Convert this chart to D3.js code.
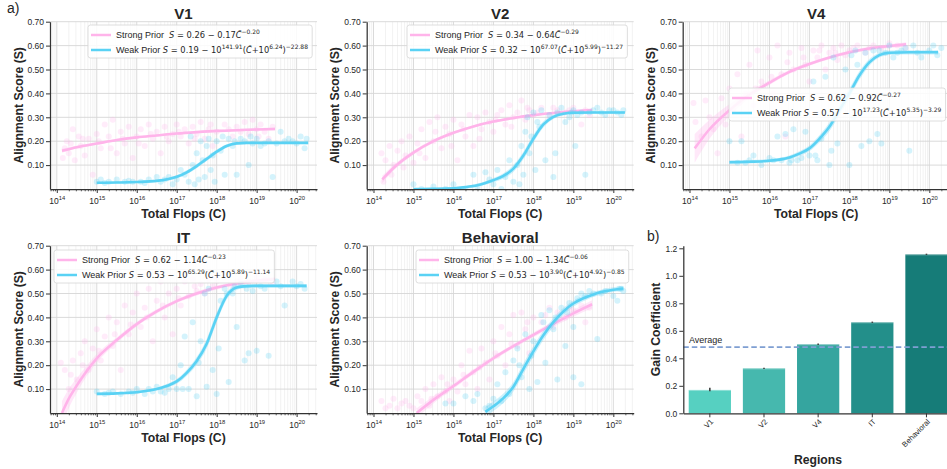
<!DOCTYPE html>
<html><head><meta charset="utf-8">
<script src="https://cdn.jsdelivr.net/npm/d3@7"></script>
<style>
body{margin:0;background:#fff}
svg{display:block}
text{font-family:"Liberation Sans",Arial,sans-serif;fill:#262626}
</style>
</head><body>
<svg id="c" width="947" height="469"></svg>
<script>
// ---------------- DATA ----------------
const regions = ["V1","V2","V4","IT","Behavioral"];
const xTickExps = [14,15,16,17,18,19,20];
const yTicks = [0.1,0.2,0.3,0.4,0.5,0.6,0.7];
const gainTicks = [0,0.2,0.4,0.6,0.8,1.0,1.2];

// legend equation parameters
const strongA = [0.26,0.34,0.62,0.62,1.00];
const strongB = [0.17,0.64,0.92,1.14,1.34];
const strongExp = [0.20,0.29,0.27,0.23,0.06];
const weakA = [0.19,0.32,0.57,0.53,0.53];
const weakE1 = ["141.91","67.07","17.23","65.29","3.90"];
const weakE2 = ["6.24","5.99","5.35","5.89","4.92"];
const weakE3 = ["22.88","11.27","3.29","11.14","0.85"];

// fitted curves: [log10 C, S, CI half-width]
const v1StrongFit = [[14.13,0.160,0.008],[14.5,0.175,0.006],[15,0.19,0.005],[15.5,0.205,0.004],[16,0.216,0.004],[16.5,0.224,0.004],[17,0.232,0.004],[17.5,0.238,0.004],[18,0.243,0.004],[18.5,0.246,0.005],[19,0.249,0.005],[19.46,0.251,0.006]];
const v1WeakFit = [[15.0,0.026,0.004],[15.5,0.027,0.004],[16.0,0.029,0.004],[16.5,0.034,0.005],[16.8,0.042,0.006],[17.0,0.051,0.007],[17.25,0.07,0.008],[17.5,0.096,0.009],[17.75,0.126,0.009],[18.0,0.156,0.008],[18.25,0.18,0.007],[18.5,0.191,0.006],[18.75,0.193,0.005],[19.0,0.193,0.005],[19.5,0.193,0.005],[20.0,0.193,0.005],[20.29,0.193,0.006]];
const v2StrongFit = [[14.22,0.04,0.015],[14.5,0.088,0.012],[15,0.152,0.009],[15.5,0.2,0.007],[16,0.235,0.006],[16.5,0.262,0.005],[17,0.282,0.005],[17.5,0.297,0.005],[18,0.309,0.005],[18.5,0.318,0.005],[19,0.325,0.006],[19.47,0.33,0.007]];
const v2WeakFit = [[15,0.0,0.004],[15.5,0.001,0.004],[16,0.003,0.004],[16.3,0.008,0.005],[16.6,0.016,0.006],[16.8,0.025,0.007],[17,0.037,0.009],[17.25,0.055,0.011],[17.5,0.085,0.014],[17.75,0.14,0.016],[18,0.21,0.016],[18.25,0.27,0.013],[18.5,0.302,0.009],[18.75,0.315,0.007],[19,0.319,0.006],[19.5,0.32,0.005],[20,0.32,0.005],[20.29,0.32,0.006]];
const v4StrongFit = [[14.13,0.17,0.06],[14.5,0.25,0.04],[15,0.33,0.025],[15.5,0.395,0.015],[16,0.445,0.01],[16.5,0.49,0.008],[17,0.523,0.007],[17.5,0.55,0.007],[18,0.572,0.007],[18.5,0.588,0.007],[19,0.598,0.008],[19.42,0.605,0.009]];
const v4WeakFit = [[15,0.112,0.008],[15.5,0.114,0.007],[16,0.118,0.007],[16.5,0.132,0.008],[16.75,0.148,0.01],[17,0.17,0.012],[17.25,0.21,0.015],[17.5,0.26,0.018],[17.75,0.33,0.02],[18,0.40,0.02],[18.25,0.475,0.018],[18.5,0.53,0.014],[18.75,0.56,0.01],[19,0.57,0.009],[19.5,0.572,0.009],[20,0.572,0.009],[20.22,0.572,0.01]];
const itStrongFit = [[14.13,0.0,0.05],[14.3,0.06,0.04],[14.5,0.115,0.03],[15,0.229,0.018],[15.5,0.305,0.012],[16,0.372,0.01],[16.5,0.425,0.009],[17,0.468,0.008],[17.5,0.5,0.008],[18,0.525,0.008],[18.5,0.542,0.008],[19,0.553,0.009],[19.46,0.56,0.01]];
const itWeakFit = [[15,0.08,0.006],[15.5,0.082,0.005],[16,0.087,0.005],[16.5,0.1,0.006],[16.75,0.113,0.008],[17,0.132,0.01],[17.25,0.168,0.013],[17.5,0.218,0.016],[17.75,0.29,0.02],[18,0.4,0.02],[18.25,0.49,0.015],[18.5,0.525,0.01],[18.75,0.531,0.008],[19,0.532,0.007],[19.5,0.532,0.007],[20,0.532,0.007],[20.25,0.532,0.008]];
const behStrongFit = [[15.08,0.0,0.02],[15.5,0.055,0.015],[16,0.113,0.012],[16.5,0.172,0.01],[17,0.229,0.009],[17.5,0.28,0.009],[18,0.327,0.01],[18.5,0.373,0.012],[19,0.417,0.014],[19.47,0.455,0.017]];
const behWeakFit = [[16.8,0.005,0.02],[17,0.028,0.02],[17.25,0.062,0.02],[17.5,0.11,0.02],[17.75,0.185,0.022],[18,0.258,0.022],[18.25,0.325,0.02],[18.5,0.38,0.018],[18.75,0.425,0.015],[19,0.458,0.013],[19.25,0.48,0.012],[19.5,0.496,0.011],[19.75,0.508,0.01],[20,0.516,0.01],[20.25,0.521,0.01]];

// scatter points: [log10 C, S]
const v1StrongPts = [[14.15,0.13],[14.2,0.17],[14.25,0.2],[14.3,0.15],[14.4,0.25],[14.45,0.12],[14.55,0.22],[14.6,0.18],[14.7,0.14],[14.8,0.21],[14.9,0.06],[15.0,0.23],[15.1,0.17],[15.2,0.27],[15.3,0.22],[15.4,0.29],[15.5,0.15],[15.6,0.24],[15.7,0.19],[15.8,0.26],[15.9,0.13],[16.0,0.22],[16.1,0.25],[16.2,0.18],[16.3,0.27],[16.4,0.21],[16.5,0.24],[16.6,0.15],[16.7,0.26],[16.8,0.2],[16.9,0.23],[17.0,0.27],[17.1,0.22],[17.2,0.25],[17.3,0.19],[17.4,0.26],[17.5,0.23],[17.6,0.28],[17.7,0.21],[17.8,0.25],[17.9,0.18],[18.0,0.24],[18.2,0.27],[18.4,0.22],[18.5,0.26],[18.7,0.28],[18.8,0.23],[18.9,0.29],[19.0,0.25],[19.1,0.27],[19.2,0.24],[19.3,0.21],[19.4,0.26],
  [14.35,0.19],[14.65,0.21],[15.05,0.2],[15.35,0.17],[15.65,0.21],[16.05,0.19],[16.35,0.23],[16.75,0.22],[17.05,0.24],[17.45,0.21],[17.85,0.27],[18.3,0.25],[18.6,0.24],[19.05,0.22]];
const v1WeakPts = [[15.0,0.03],[15.1,0.04],[15.3,0.03],[15.5,0.04],[15.7,0.03],[15.9,0.03],[16.1,0.03],[16.3,0.04],[16.5,0.05],[16.6,0.03],[16.8,0.05],[16.9,0.02],[17.0,0.04],[17.1,0.08],[17.2,0.06],[17.3,0.03],[17.35,0.22],[17.4,0.1],[17.5,0.15],[17.55,0.04],[17.6,0.2],[17.65,0.12],[17.7,0.05],[17.75,0.18],[17.8,0.21],[17.85,0.08],[17.9,0.14],[18.0,0.2],[18.1,0.16],[18.2,0.06],[18.3,0.21],[18.4,0.18],[18.5,0.06],[18.6,0.21],[18.7,0.2],[18.8,0.1],[18.9,0.19],[19.0,0.21],[19.1,0.18],[19.3,0.2],[19.4,0.05],[19.5,0.19],[19.6,0.24],[19.7,0.2],[19.9,0.2],[20.1,0.22],[20.2,0.17],[20.25,0.21],
  [15.2,0.025],[15.8,0.035],[16.2,0.025],[16.7,0.04],[17.45,0.02],[17.95,0.03],[18.15,0.22],[18.45,0.2],[18.85,0.22],[19.2,0.19],[19.8,0.21],[20.0,0.19]];
const v2StrongPts = [[14.2,0.15],[14.25,0.03],[14.3,0.12],[14.4,0.18],[14.5,0.1],[14.6,0.16],[14.7,0.2],[14.8,0.14],[14.9,0.22],[15.0,0.11],[15.1,0.19],[15.2,0.25],[15.3,0.13],[15.4,0.28],[15.5,0.2],[15.6,0.3],[15.7,0.17],[15.8,0.26],[15.9,0.23],[16.0,0.29],[16.1,0.12],[16.2,0.27],[16.3,0.22],[16.4,0.31],[16.5,0.18],[16.6,0.3],[16.7,0.25],[16.8,0.32],[16.9,0.28],[17.0,0.24],[17.1,0.31],[17.2,0.33],[17.3,0.27],[17.4,0.35],[17.5,0.3],[17.6,0.32],[17.7,0.37],[17.8,0.29],[17.9,0.33],[18.0,0.31],[18.2,0.34],[18.4,0.3],[18.6,0.33],[18.8,0.32],[19.0,0.34],[19.2,0.27],[19.3,0.33],[19.4,0.31],
  [14.45,0.06],[14.75,0.09],[15.15,0.15],[15.55,0.24],[15.95,0.18],[16.25,0.25],[16.65,0.21],[17.05,0.29],[17.45,0.26],[17.85,0.34],[18.1,0.32],[18.5,0.34],[18.9,0.33]];
const v2WeakPts = [[15.0,0.02],[15.2,0.0],[15.5,0.01],[15.8,0.0],[16.0,0.02],[16.3,0.0],[16.5,0.06],[16.6,0.01],[16.8,0.07],[16.9,0.04],[17.0,0.02],[17.1,0.08],[17.2,0.0],[17.3,0.05],[17.4,0.12],[17.5,0.03],[17.6,0.1],[17.7,0.18],[17.75,0.06],[17.8,0.24],[17.85,0.3],[17.9,0.15],[18.0,0.32],[18.05,0.08],[18.1,0.28],[18.2,0.33],[18.3,0.12],[18.4,0.31],[18.5,0.05],[18.55,0.15],[18.6,0.32],[18.8,0.28],[18.9,0.3],[19.0,0.33],[19.05,0.18],[19.2,0.32],[19.3,0.06],[19.5,0.33],[19.7,0.32],[19.9,0.33],[20.1,0.32],[20.2,0.31],
  [18.7,0.34],[18.95,0.32],[19.1,0.31],[19.4,0.32],[19.6,0.34],[19.8,0.31],[20.0,0.33],[20.25,0.33],[17.95,0.22],[18.15,0.26],[17.65,0.02]];
const v4StrongPts = [[14.1,0.36],[14.15,0.28],[14.3,0.22],[14.4,0.37],[14.5,0.3],[14.6,0.25],[14.7,0.15],[14.8,0.38],[14.9,0.27],[15.0,0.42],[15.1,0.33],[15.2,0.48],[15.3,0.22],[15.4,0.4],[15.5,0.52],[15.6,0.35],[15.7,0.58],[15.8,0.45],[15.9,0.3],[16.0,0.55],[16.1,0.4],[16.2,0.6],[16.3,0.48],[16.4,0.22],[16.5,0.57],[16.6,0.5],[16.7,0.38],[16.8,0.59],[16.9,0.52],[17.0,0.45],[17.1,0.58],[17.2,0.55],[17.3,0.6],[17.4,0.5],[17.5,0.57],[17.6,0.59],[17.7,0.54],[17.8,0.6],[17.9,0.56],[18.0,0.58],[18.2,0.6],[18.4,0.57],[18.6,0.6],[18.8,0.59],[19.0,0.61],[19.2,0.6],[19.4,0.59],
  [15.25,0.36],[15.65,0.42],[16.05,0.47],[16.45,0.53],[16.85,0.55],[17.25,0.58],[17.65,0.57],[18.1,0.59],[18.5,0.59]];
const v4WeakPts = [[15.0,0.2],[15.2,0.11],[15.3,0.2],[15.5,0.12],[15.6,0.14],[15.8,0.1],[16.0,0.13],[16.2,0.22],[16.3,0.12],[16.4,0.23],[16.5,0.11],[16.6,0.25],[16.7,0.12],[16.8,0.13],[16.9,0.24],[17.0,0.14],[17.1,0.45],[17.2,0.12],[17.3,0.21],[17.4,0.47],[17.5,0.1],[17.6,0.55],[17.7,0.19],[17.8,0.38],[17.9,0.5],[18.0,0.1],[18.05,0.56],[18.1,0.3],[18.2,0.52],[18.3,0.18],[18.4,0.57],[18.5,0.2],[18.6,0.58],[18.7,0.23],[18.8,0.19],[18.9,0.57],[19.0,0.6],[19.1,0.55],[19.3,0.58],[19.5,0.16],[19.6,0.6],[19.8,0.55],[20.0,0.58],[20.2,0.56],[20.3,0.59],
  [15.4,0.11],[16.1,0.12],[16.55,0.12],[17.15,0.14],[17.55,0.16],[18.15,0.58],[18.75,0.58],[19.2,0.57],[19.4,0.59],[19.7,0.57],[20.1,0.6]];
const itStrongPts = [[14.1,0.21],[14.2,0.18],[14.3,0.1],[14.4,0.22],[14.5,0.14],[14.6,0.25],[14.7,0.3],[14.8,0.18],[14.9,0.27],[15.0,0.35],[15.1,0.22],[15.2,0.32],[15.3,0.4],[15.4,0.28],[15.5,0.38],[15.6,0.18],[15.7,0.45],[15.8,0.33],[15.9,0.42],[16.0,0.5],[16.1,0.36],[16.2,0.44],[16.3,0.52],[16.4,0.3],[16.5,0.47],[16.6,0.55],[16.7,0.4],[16.8,0.5],[16.9,0.33],[17.0,0.52],[17.1,0.45],[17.2,0.55],[17.3,0.49],[17.4,0.56],[17.5,0.51],[17.6,0.54],[17.7,0.5],[17.8,0.56],[17.9,0.53],[18.0,0.55],[18.2,0.57],[18.4,0.53],[18.6,0.56],[18.8,0.55],[19.0,0.57],[19.2,0.56],[19.4,0.54],
  [14.35,0.16],[14.65,0.2],[15.05,0.26],[15.45,0.33],[15.85,0.37],[16.25,0.4],[16.65,0.45],[17.05,0.48],[17.45,0.53],[17.95,0.57],[18.5,0.55]];
const itWeakPts = [[15.0,0.09],[15.2,0.08],[15.4,0.09],[15.6,0.08],[15.8,0.09],[16.0,0.1],[16.2,0.08],[16.4,0.09],[16.5,0.11],[16.6,0.09],[16.8,0.1],[16.9,0.15],[17.0,0.1],[17.1,0.2],[17.2,0.32],[17.3,0.1],[17.4,0.38],[17.5,0.07],[17.6,0.3],[17.7,0.5],[17.75,0.11],[17.8,0.52],[17.9,0.18],[18.0,0.08],[18.05,0.27],[18.1,0.47],[18.2,0.52],[18.3,0.13],[18.4,0.5],[18.5,0.36],[18.6,0.54],[18.7,0.22],[18.8,0.25],[18.9,0.51],[19.0,0.26],[19.1,0.53],[19.3,0.24],[19.5,0.55],[19.7,0.45],[19.9,0.55],[20.1,0.54],[20.2,0.52],
  [15.3,0.085],[15.9,0.085],[16.3,0.1],[16.7,0.085],[17.15,0.1],[17.55,0.21],[18.25,0.5],[18.45,0.53],[18.75,0.52],[19.2,0.52],[19.6,0.53],[20.0,0.53]];
const behStrongPts = [[14.2,0.05],[14.3,0.02],[14.4,0.03],[14.5,0.06],[14.6,0.02],[14.8,0.05],[14.9,0.03],[15.0,0.02],[15.1,0.07],[15.2,0.05],[15.3,0.1],[15.4,0.03],[15.5,0.12],[15.6,0.07],[15.7,0.15],[15.8,0.09],[15.9,0.05],[16.0,0.14],[16.1,0.09],[16.2,0.2],[16.3,0.12],[16.4,0.26],[16.5,0.17],[16.6,0.1],[16.7,0.27],[16.8,0.21],[16.9,0.14],[17.0,0.3],[17.1,0.24],[17.2,0.36],[17.3,0.2],[17.4,0.33],[17.5,0.41],[17.6,0.28],[17.7,0.42],[17.8,0.35],[17.9,0.25],[18.0,0.4],[18.2,0.38],[18.4,0.44],[18.5,0.36],[18.6,0.42],[18.8,0.4],[19.0,0.43],[19.2,0.45],[19.3,0.38],[19.4,0.44],
  [14.7,0.04],[15.45,0.06],[15.85,0.12],[16.25,0.16],[16.65,0.19],[17.05,0.25],[17.45,0.29],[17.85,0.38],[18.3,0.41],[18.9,0.44]];
const behWeakPts = [[15.8,0.04],[16.0,0.04],[16.3,0.07],[16.5,0.05],[16.6,0.08],[16.8,0.02],[17.0,0.06],[17.1,0.12],[17.3,0.17],[17.4,0.08],[17.5,0.22],[17.6,0.27],[17.7,0.15],[17.8,0.33],[17.9,0.1],[18.0,0.3],[18.1,0.13],[18.2,0.41],[18.3,0.21],[18.4,0.43],[18.5,0.35],[18.6,0.14],[18.7,0.44],[18.8,0.28],[18.9,0.46],[19.0,0.15],[19.0,0.36],[19.1,0.48],[19.2,0.12],[19.2,0.5],[19.3,0.49],[19.5,0.5],[19.6,0.31],[19.8,0.51],[20.0,0.49],[20.1,0.47],[20.2,0.52],[20.25,0.51],
  [16.9,0.03],[17.2,0.05],[17.65,0.2],[17.95,0.24],[18.25,0.38],[18.55,0.4],[18.85,0.42],[19.4,0.51],[19.7,0.5],[20.15,0.52]];

// bar chart (b)
const gainValues = [0.17,0.327,0.502,0.662,1.156];
const gainErrLow = [0.16,0.322,0.497,0.657,1.151];
const gainErrHigh = [0.186,0.332,0.507,0.667,1.161];
const gainAverage = 0.482;

// ---------------- STYLE / LAYOUT ----------------
const pink = "#ffb4ea", blue = "#5ad2f4";
const barColors = ["#56d0c1","#46b8ae","#35a59f","#238f8a","#167c78"];
const panelW = 267, panelH = 167.3;
const layout = [
  {x:50,    y:21.7,  lg:[88,25]},
  {x:366.7, y:21.7,  lg:[407,25]},
  {x:682.7, y:21.7,  lg:[729,88]},
  {x:50,    y:245.7, lg:[54,250]},
  {x:366.7, y:245.7, lg:[416,250]}
];
const fits = [
  {s:v1StrongFit,w:v1WeakFit,sp:v1StrongPts,wp:v1WeakPts,brv:true},
  {s:v2StrongFit,w:v2WeakFit,sp:v2StrongPts,wp:v2WeakPts},
  {s:v4StrongFit,w:v4WeakFit,sp:v4StrongPts,wp:v4WeakPts},
  {s:itStrongFit,w:itWeakFit,sp:itStrongPts,wp:itWeakPts},
  {s:behStrongFit,w:behWeakFit,sp:behStrongPts,wp:behWeakPts}
];

const svg = d3.select("#c");
const f2 = d3.format(".2f");
const defs = svg.append("defs");

function styleAxis(g){
  g.attr("font-family",null).attr("font-size",null);
  g.select(".domain").attr("stroke","#333").attr("stroke-width",1.25);
  g.selectAll(".tick line").attr("stroke","#333").attr("stroke-width",1);
  g.selectAll(".tick text").attr("fill","#262626").attr("font-size",8.5);
}

function drawLegend(g, x0, y0, rows){
  const lg = g.append("g").attr("transform",`translate(${x0},${y0})`);
  const rect = lg.append("rect");
  const inner = lg.append("g");
  rows.forEach((r,i)=>{
    const cy = 10 + i*15;
    inner.append("line").attr("x1",3).attr("x2",23).attr("y1",cy).attr("y2",cy)
      .attr("stroke",r.color).attr("stroke-width",2.5);
    const t = inner.append("text").attr("x",28).attr("y",cy+3.2)
      .attr("font-size",9).style("white-space","pre");
    let shift = 0;
    r.parts.forEach(p=>{
      const ts = t.append("tspan").text(p.t);
      if(p.m) ts.attr("font-family","DejaVu Sans").attr("font-size",8.3);
      if(p.it) ts.attr("font-style","italic");
      const target = p.sup ? -3.8 : 0;
      if(target !== shift){ ts.attr("dy", target - shift); shift = target; }
      if(p.sup) ts.attr("font-size",6);
    });
  });
  const bb = inner.node().getBBox();
  rect.attr("x",0).attr("y",0).attr("rx",2.5)
    .attr("width", bb.x + bb.width + 4).attr("height", 33)
    .attr("fill","white").attr("fill-opacity",0.85)
    .attr("stroke","#d6d6d6").attr("stroke-width",0.8);
}

function drawPanel(i){
  const L = layout[i], F = fits[i];
  const x = d3.scaleLog().domain([10**13.83, 10**20.51]).range([L.x, L.x+panelW]);
  const y = d3.scaleLinear().domain([0,0.7]).range([L.y+panelH, L.y]);
  const X = e => x(10**e);
  const g = svg.append("g");
  const cid = "clip"+i;
  defs.append("clipPath").attr("id",cid).append("rect")
    .attr("x",L.x).attr("y",L.y).attr("width",panelW).attr("height",panelH);

  const majors = [], minors = [];
  for(let e=13;e<=20;e++) for(let k=1;k<10;k++){
    const v = k*10**e;
    if(v >= x.domain()[0] && v <= x.domain()[1]) (k===1?majors:minors).push(v);
  }
  // grid
  g.append("g").selectAll("line").data(minors).join("line")
    .attr("x1",d=>x(d)).attr("x2",d=>x(d)).attr("y1",L.y).attr("y2",L.y+panelH)
    .attr("stroke","#e9e9e9").attr("stroke-width",0.6);
  g.append("g").selectAll("line").data(majors).join("line")
    .attr("x1",d=>x(d)).attr("x2",d=>x(d)).attr("y1",L.y).attr("y2",L.y+panelH)
    .attr("stroke","#d6d6d6").attr("stroke-width",0.9);
  g.append("g").selectAll("line").data(yTicks).join("line")
    .attr("x1",L.x).attr("x2",L.x+panelW).attr("y1",d=>y(d)).attr("y2",d=>y(d))
    .attr("stroke","#d6d6d6").attr("stroke-width",0.9);

  const plot = g.append("g").attr("clip-path",`url(#${cid})`);
  const area = d3.area().x(d=>X(d[0])).y0(d=>y(d[1]-d[2])).y1(d=>y(d[1]+d[2])).curve(d3.curveMonotoneX);
  const line = d3.line().x(d=>X(d[0])).y(d=>y(d[1])).curve(d3.curveMonotoneX);
  [[F.sp,F.s,pink],[F.wp,F.w,blue]].forEach(([pts,fit,col])=>{
    plot.append("g").selectAll("circle").data(pts).join("circle")
      .attr("cx",d=>X(d[0])).attr("cy",d=>y(d[1])).attr("r",3)
      .attr("fill",col).attr("fill-opacity",0.26);
    plot.append("path").datum(fit).attr("d",area).attr("fill",col).attr("fill-opacity",0.3);
    plot.append("path").datum(fit).attr("d",line).attr("fill","none")
      .attr("stroke",col).attr("stroke-width",2.6);
  });

  // axes
  const gxm = g.append("g").attr("transform",`translate(0,${L.y+panelH})`)
    .call(d3.axisBottom(x).tickValues(minors).tickSize(2.3).tickSizeOuter(0).tickFormat(()=>""));
  styleAxis(gxm); gxm.select(".domain").remove();
  gxm.selectAll(".tick line").attr("stroke-width",0.8);
  const gx = g.append("g").attr("transform",`translate(0,${L.y+panelH})`)
    .call(d3.axisBottom(x).tickValues(xTickExps.map(e=>10**e)).tickSize(4).tickSizeOuter(0));
  styleAxis(gx);
  gx.selectAll(".tick text").each(function(d){
    const t = d3.select(this).text("").attr("y",null).attr("dy",null)
      .attr("transform","translate(0,15)");
    t.append("tspan").text("10");
    t.append("tspan").text(Math.round(Math.log10(d))).attr("font-size",5.8).attr("dy",-4.5);
  });
  const gy = g.append("g").attr("transform",`translate(${L.x},0)`)
    .call(d3.axisLeft(y).tickValues(yTicks).tickFormat(d3.format(".2f")).tickSize(4).tickSizeOuter(0));
  styleAxis(gy);
  gy.selectAll(".tick text").attr("x",-6);

  // labels
  g.append("text").attr("x",L.x+panelW/2).attr("y",L.y-2.4).attr("text-anchor","middle")
    .attr("font-size",15).attr("font-weight","bold").text(regions[i]);
  g.append("text").attr("x",L.x+panelW/2).attr("y",L.y+panelH+28.5).attr("text-anchor","middle")
    .attr("font-size",12.2).attr("font-weight","bold").text("Total Flops (C)");
  g.append("text").attr("transform",`translate(${L.x-27.5},${L.y+panelH/2}) rotate(-90)`)
    .attr("text-anchor","middle").attr("font-size",12.2).attr("font-weight","bold")
    .text("Alignment Score (S)");

  // legend
  const ct = "C\u0303", cw = F.brv ? "C\u0306" : "C\u0303";
  drawLegend(g, L.lg[0], L.lg[1], [
    {color:pink, parts:[
      {t:"Strong Prior  "},{t:"S",m:1,it:1},
      {t:" = "+f2(strongA[i])+" − "+f2(strongB[i]),m:1},{t:ct,m:1,it:1},
      {t:"−"+f2(strongExp[i]),m:1,sup:1}]},
    {color:blue, parts:[
      {t:"Weak Prior "},{t:"S",m:1,it:1},
      {t:" = "+f2(weakA[i])+" − 10",m:1},{t:weakE1[i],m:1,sup:1},
      {t:"(",m:1},{t:cw,m:1,it:1},{t:"+10",m:1},{t:weakE2[i],m:1,sup:1},
      {t:")",m:1},{t:"−"+weakE3[i],m:1,sup:1}]}
  ]);
}
regions.forEach((r,i)=>drawPanel(i));

// ---------------- bar chart ----------------
(function(){
  const g = svg.append("g");
  const xb = d3.scaleBand().domain(regions).range([683.3,953]).paddingInner(0.22).paddingOuter(0.1);
  const yb = d3.scaleLinear().domain([0,1.219]).range([413.3,245.7]);
  g.append("g").selectAll("rect").data(regions).join("rect")
    .attr("x",d=>xb(d)).attr("width",xb.bandwidth())
    .attr("y",(d,i)=>yb(gainValues[i])).attr("height",(d,i)=>yb(0)-yb(gainValues[i]))
    .attr("fill",(d,i)=>barColors[i]);
  g.append("g").selectAll("line").data(regions).join("line")
    .attr("x1",d=>xb(d)).attr("x2",d=>xb(d)+xb.bandwidth())
    .attr("y1",(d,i)=>yb(gainValues[i])+0.5).attr("y2",(d,i)=>yb(gainValues[i])+0.5)
    .attr("stroke","#ffffff").attr("stroke-opacity",0.35).attr("stroke-width",1);
  g.append("g").selectAll("line").data(regions).join("line")
    .attr("x1",d=>xb(d)+xb.bandwidth()/2).attr("x2",d=>xb(d)+xb.bandwidth()/2)
    .attr("y1",(d,i)=>yb(gainErrLow[i])).attr("y2",(d,i)=>yb(gainErrHigh[i]))
    .attr("stroke","#404040").attr("stroke-width",1.6);
  g.append("line").attr("x1",683.3).attr("x2",953).attr("y1",yb(gainAverage)).attr("y2",yb(gainAverage))
    .attr("stroke","#7f9fd2").attr("stroke-width",1.8).attr("stroke-dasharray","5.5,3");
  g.append("text").attr("x",689).attr("y",yb(gainAverage)-4.5).attr("font-size",9).text("Average");

  const gx = g.append("g").attr("transform","translate(0,413.3)")
    .call(d3.axisBottom(xb).tickSize(4).tickSizeOuter(0));
  styleAxis(gx);
  gx.selectAll(".tick text").attr("y",null).attr("dy",null)
    .attr("text-anchor","end").attr("font-size",7.6)
    .attr("transform","translate(4,9) rotate(-45)");
  const gy = g.append("g").attr("transform","translate(683.3,0)")
    .call(d3.axisLeft(yb).tickValues(gainTicks).tickFormat(d3.format(".1f")).tickSize(4).tickSizeOuter(0));
  styleAxis(gy);
  gy.selectAll(".tick text").attr("x",-6);
  g.append("text").attr("x",818).attr("y",464).attr("text-anchor","middle")
    .attr("font-size",12.2).attr("font-weight","bold").text("Regions");
  g.append("text").attr("transform","translate(659.5,329.5) rotate(-90)")
    .attr("text-anchor","middle").attr("font-size",12.2).attr("font-weight","bold").text("Gain Coefficient");
})();

svg.append("text").attr("x",7).attr("y",13).attr("font-size",14).text("a)");
svg.append("text").attr("x",647).attr("y",241).attr("font-size",14).text("b)");
</script>
</body></html>
